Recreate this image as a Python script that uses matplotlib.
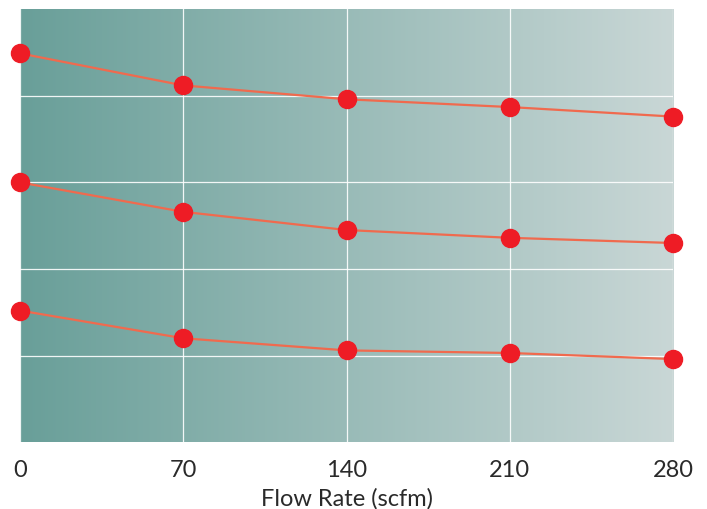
import numpy as np
import matplotlib.pyplot as plt
from matplotlib.colors import LinearSegmentedColormap

# ----------------------------
# Data
# ----------------------------
flow_rate = [0, 70, 140, 210, 280]
series_top = [4.49, 4.12, 3.96, 3.87, 3.76]
series_mid = [3.00, 2.66, 2.45, 2.36, 2.30]
series_low = [1.52, 1.20, 1.06, 1.03, 0.96]

plt.rcParams['font.family'] = ['Lato', 'DejaVu Sans']

fig = plt.figure(figsize=(7.07, 5.10), dpi=100)
ax = fig.add_axes([0.0283, 0.131, 0.9237, 0.849])

# gradient background, teal on the left fading to pale grey
cmap = LinearSegmentedColormap.from_list("bg", ["#699f99", "#c9d7d6"])
grad = np.linspace(0, 1, 256).reshape(1, -1)
ax.imshow(grad, cmap=cmap, aspect="auto", extent=[0, 280, 0, 5], zorder=0)

ax.set_xlim(0, 280)
ax.set_ylim(0, 5)

for s in [series_top, series_mid, series_low]:
    ax.plot(flow_rate, s, color="#f06a4e", lw=1.6, zorder=3, clip_on=False)
    ax.plot(flow_rate, s, "o", color="#ee1c25", ms=13, mec="#ee1c25",
            zorder=4, clip_on=False)

ax.set_xticks(flow_rate)
ax.set_yticks([1, 2, 3, 4])
ax.set_yticklabels([])
ax.grid(True, color="white", lw=0.9, alpha=0.9, zorder=1)
ax.set_axisbelow(False)
ax.tick_params(length=0, labelsize=17, pad=12, colors="#2a2a2a")
for sp in ax.spines.values():
    sp.set_visible(False)

ax.set_xlabel("Flow Rate (scfm)", fontsize=17, color="#2a2a2a", labelpad=5)

plt.savefig("out.png", dpi=100)
